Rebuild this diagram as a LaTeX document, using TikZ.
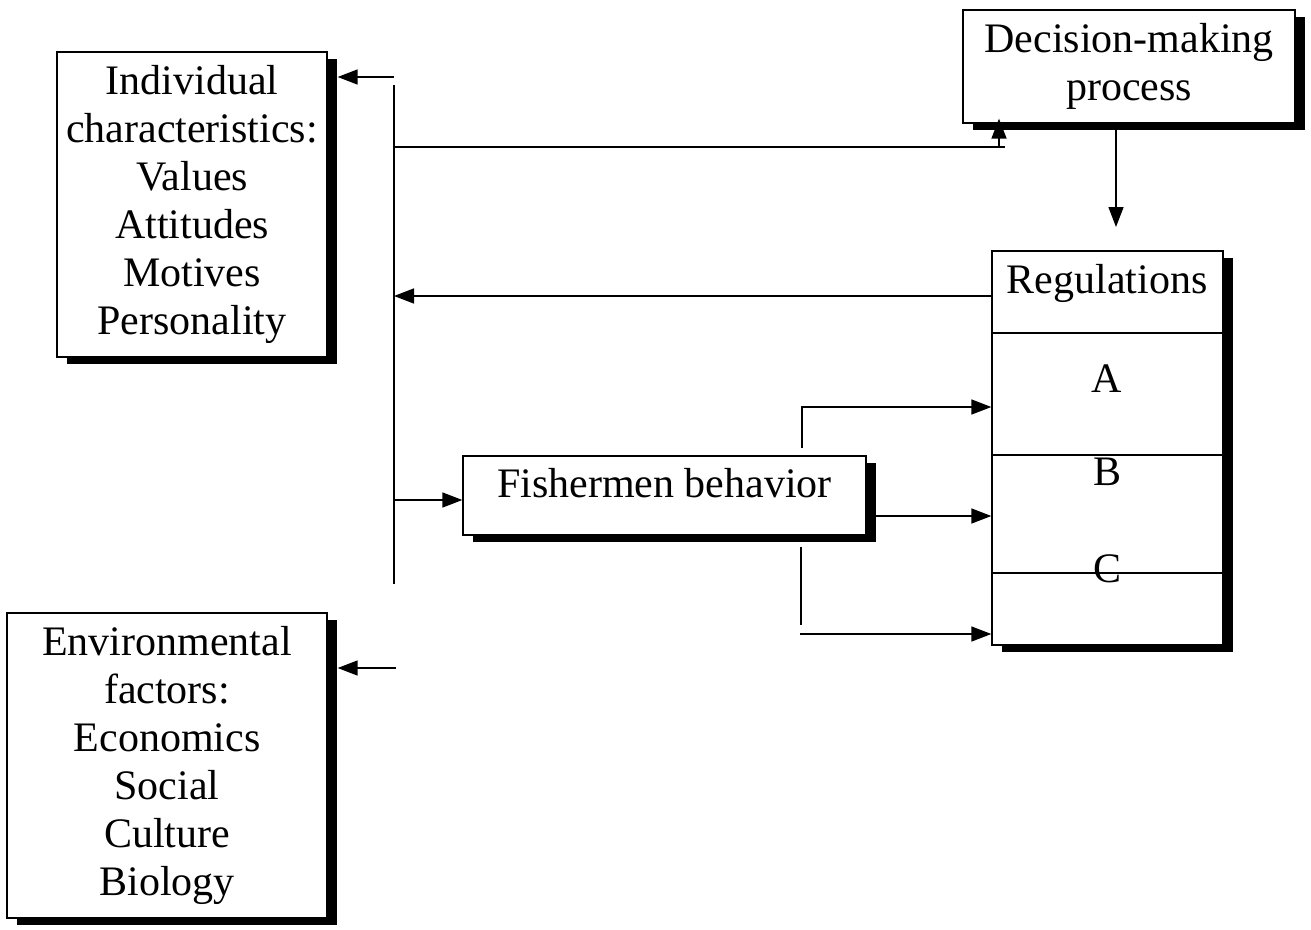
\documentclass[tikz,border=0pt]{standalone}
\usepackage{fontspec}
\setmainfont{Liberation Serif}
\usetikzlibrary{arrows.meta,shadows}

\begin{document}
\begin{tikzpicture}[x=1pt,y=-1pt,
  box/.style={draw,fill=white,line width=1.3pt,inner sep=0pt,align=center,
    drop shadow={shadow xshift=10pt,shadow yshift=-7pt,opacity=1,fill=black}},
  ln/.style={line width=1.5pt},
  arr/.style={ln,-{Triangle[length=20pt,width=15pt]}},
  font=\fontsize{42}{48}\selectfont]
\useasboundingbox (0,0) rectangle (1311,929);

% boxes
\node[box,minimum width=270pt,minimum height=305pt] (ind) at (192,204.5)
  {Individual\\characteristics:\\Values\\Attitudes\\Motives\\Personality};
\node[box,minimum width=320pt,minimum height=305pt] (env) at (167,765.5)
  {Environmental\\factors:\\Economics\\Social\\Culture\\Biology};
\node[box,minimum width=332pt,minimum height=113pt] (dec) at (1129,66.5)
  {Decision-making\\process};
\node[box,minimum width=231pt,minimum height=394pt] (reg) at (1107.5,448) {};
\node[box,minimum width=403pt,minimum height=79pt,text depth=25pt] (fish) at (664.5,495.5)
  {Fishermen behavior};

% regulation rows
\foreach \y in {333,455,573}
  \draw[line width=1.3pt] (reg.west |- 0,\y) -- (reg.east |- 0,\y);
\node[anchor=base] (regtitle) at (1107,293) {Regulations};
\foreach \t/\y in {A/392,B/485,C/582}
  \node[anchor=base] (sec\t) at (1107,\y) {\t};

% spine
\coordinate (sptop) at (394,85);
\coordinate (spbot) at (394,584);
\draw[ln] (sptop) -- (spbot);

\coordinate (indout) at (394,77);
\draw[arr,shorten >=10pt] (indout) -- (ind.east |- indout);
\coordinate (envout) at (396,668);
\draw[arr,shorten >=10pt] (envout) -- (env.east |- envout);

% to decision-making
\coordinate (decline) at (394,147);
\coordinate (decend) at (1005,147);
\draw[ln] (decline) -- (decend);
\coordinate (decin) at (999,147);
\draw[arr,shorten >=-5pt] (decin) -- (decin |- dec.south);

% decision-making to regulations
\coordinate (regin) at (1116,227);
\draw[arr] (dec.south -| regin) -- (regin);

% regulations back to spine
\coordinate (regback) at (394,296);
\draw[arr] (reg.west |- regback) -- (regback);

% spine to fishermen
\coordinate (fishin) at (394,500);
\draw[arr] (fishin) -- (fish.west |- fishin);

% fishermen to regulations
\coordinate (fishA) at (802,448);
\coordinate (rowA) at (802,407);
\draw[arr] (fishA) -- (rowA) -- (reg.west |- rowA);
\coordinate (rowB) at (877,516);
\draw[arr] (fish.east |- rowB) -- (reg.west |- rowB);
\coordinate (fishC) at (801,547);
\draw[ln] (fishC) -- ++(0,78);
\coordinate (rowC) at (800,634);
\draw[arr] (rowC) -- (reg.west |- rowC);
\end{tikzpicture}
\end{document}
